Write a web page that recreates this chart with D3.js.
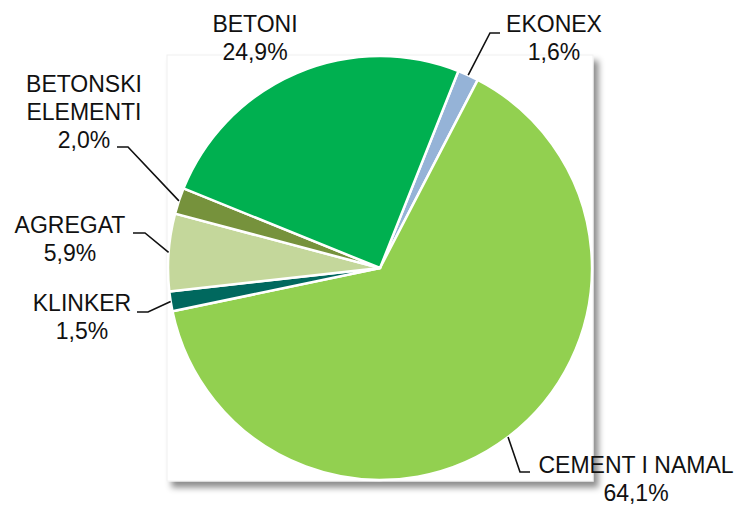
<!DOCTYPE html>
<html>
<head>
<meta charset="utf-8">
<script src="https://cdn.jsdelivr.net/npm/d3@7"></script>
<style>
  body { margin: 0; background: #fff; }
  text { font-family: "Liberation Sans", Arial, sans-serif; font-size: 23px; fill: #111; }
</style>
</head>
<body>
<svg id="chart"></svg>
<script>
// Slices in drawing order (clockwise from the EKONEX wedge)
const categories = ["EKONEX", "CEMENT I NAMAL", "KLINKER", "AGREGAT", "BETONSKI ELEMENTI", "BETONI"]
const shares = [1.6, 64.1, 1.5, 5.9, 2.0, 24.9]
const labelLines = [
  ["EKONEX", "1,6%"],
  ["CEMENT I NAMAL", "64,1%"],
  ["KLINKER", "1,5%"],
  ["AGREGAT", "5,9%"],
  ["BETONSKI", "ELEMENTI", "2,0%"],
  ["BETONI", "24,9%"],
]
const sliceColors = ["#95B3D7", "#92D050", "#00685E", "#C4D79B", "#76923C", "#00B050"]

const WIDTH = 742
const HEIGHT = 507
const CX = 380
const CY = 268
const R = 212
const LINE_H = 28

// label placement: text centre x, first baseline, and leader elbow/end (null = no leader)
const labelLayout = [
  { x: 554, y: 32, elbow: [490, 33], end: [500, 33] },
  { x: 636, y: 473, elbow: [520, 472], end: [530, 472] },
  { x: 82, y: 311, elbow: [148, 312], end: [137, 312] },
  { x: 70, y: 233, elbow: [145, 233], end: [133, 233] },
  { x: 84, y: 92, elbow: [128, 147], end: [117, 147] },
  { x: 255, y: 32, elbow: null, end: null },
]

const svg = d3.select("#chart").attr("width", WIDTH).attr("height", HEIGHT)

const defs = svg.append("defs")
const shadow = defs.append("filter").attr("id", "shadow")
  .attr("x", "-5%").attr("y", "-5%").attr("width", "115%").attr("height", "115%")
shadow.append("feDropShadow")
  .attr("dx", 5).attr("dy", 6).attr("stdDeviation", 3)
  .attr("flood-color", "#000").attr("flood-opacity", 0.45)

// plot area box with drop shadow
svg.append("rect")
  .attr("x", CX - R - 1).attr("y", CY - R - 1)
  .attr("width", 2 * R + 2).attr("height", 2 * R + 2)
  .attr("fill", "#fff")
  .attr("stroke", "#f0f0f0")
  .attr("filter", "url(#shadow)")

const start = 21.7 * Math.PI / 180
const pie = d3.pie().sort(null).startAngle(start).endAngle(start + 2 * Math.PI)
const arcs = pie(shares)
const arc = d3.arc().innerRadius(0).outerRadius(R)

const g = svg.append("g").attr("transform", `translate(${CX},${CY})`)
g.selectAll("path")
  .data(arcs)
  .join("path")
  .attr("d", arc)
  .attr("fill", (d, i) => sliceColors[i])
  .attr("stroke", "#fff")
  .attr("stroke-width", 2.5)
  .attr("stroke-linejoin", "round")

// leader lines from the middle of each wedge's rim
const rimPoint = (d) => {
  const a = (d.startAngle + d.endAngle) / 2
  return [CX + R * Math.sin(a), CY - R * Math.cos(a)]
}

arcs.forEach((d, i) => {
  const lay = labelLayout[i]
  if (lay.elbow) {
    svg.append("polyline")
      .attr("points", [rimPoint(d), lay.elbow, lay.end].map((p) => p.join(",")).join(" "))
      .attr("fill", "none")
      .attr("stroke", "#111")
      .attr("stroke-width", 1.6)
  }
  const t = svg.append("text")
    .attr("text-anchor", "middle")
    .attr("aria-label", categories[i])
  labelLines[i].forEach((line, k) => {
    t.append("tspan")
      .attr("x", lay.x)
      .attr("y", lay.y + k * LINE_H)
      .text(line)
  })
})
</script>
</body>
</html>
